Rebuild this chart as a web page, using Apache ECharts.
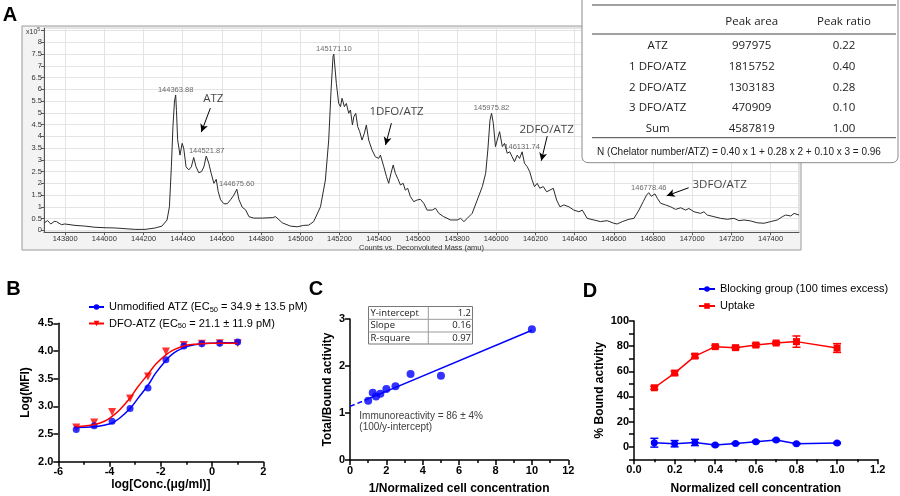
<!DOCTYPE html>
<html><head><meta charset="utf-8">
<script src="https://cdn.jsdelivr.net/npm/echarts@6/dist/echarts.min.js"></script>
<style>html,body{margin:0;padding:0;background:#fff}#c{width:900px;height:496px}</style>
</head><body><div id="c"></div>
<script>
// ---------- Panel A: deconvoluted mass spectrum ----------
const spectrumMass = [143693,143710,143727,143744,143756,143781,143798,143850,143900,143952,144003,144055,144106,144157,144208,144260,144294,144320,144332,144342,144350,144358,144364,144368,144374,144386,144397,144405,144417,144431,144444,144456,144468,144482,144496,144508,144520,144533,144545,144559,144571,144581,144593,144610,144627,144644,144661,144676,144687,144704,144721,144738,144763,144806,144857,144874,144908,144949,144984,145018,145043,145068,145103,145128,145145,145157,145167,145171,145184,145196,145205,145213,145225,145235,145247,145256,145266,145273,145283,145293,145303,145315,145327,145337,145349,145366,145383,145400,145409,145426,145440,145451,145463,145474,145485,145497,145511,145525,145536,145548,145562,145579,145596,145613,145630,145647,145673,145690,145707,145732,145767,145801,145818,145835,145852,145877,145903,145929,145946,145957,145968,145976,145985,145996,146005,146017,146031,146042,146056,146069,146081,146093,146107,146119,146132,146144,146158,146171,146183,146195,146209,146222,146240,146257,146274,146291,146308,146325,146345,146371,146396,146422,146439,146464,146498,146532,146566,146600,146617,146643,146677,146703,146728,146750,146767,146778,146791,146810,146822,146839,146864,146890,146915,146941,146966,146983,147009,147043,147060,147077,147111,147145,147179,147213,147239,147264,147298,147332,147366,147400,147434,147460,147477,147503,147520,147545];
const spectrumIntensity = [0.32,0.41,0.27,0.38,0.37,0.24,0.27,0.21,0.18,0.13,0.11,0.10,0.07,0.04,0.04,0.10,0.18,0.44,1.0,2.7,4.4,5.5,5.76,5.1,3.85,3.2,3.7,3.5,2.7,2.57,2.7,3.1,2.7,2.45,2.5,2.7,3.16,2.85,2.43,2.0,2.17,1.65,1.3,1.13,1.13,1.3,1.5,1.75,1.3,0.98,0.87,0.58,0.52,0.52,0.54,0.58,0.32,0.18,0.15,0.21,0.22,0.37,1.0,2.14,3.84,5.97,7.39,7.5,6.25,5.4,5.26,5.62,5.26,5.4,4.98,5.12,4.48,4.83,4.98,4.41,4.2,3.84,4.13,4.48,3.84,3.42,3.13,3.06,3.2,2.71,2.28,2.0,2.43,2.78,2.43,2.21,1.93,2.0,1.71,1.79,1.43,1.22,1.29,1.32,1.15,0.86,0.86,0.94,0.72,0.58,0.44,0.44,0.51,0.37,0.51,0.72,1.29,1.86,2.43,3.42,4.69,4.98,4.55,3.56,3.84,4.2,3.56,3.7,3.28,3.34,3.13,2.92,3.2,3.06,3.34,2.85,2.71,2.49,2.14,1.86,2.0,1.79,1.86,1.64,1.71,1.79,1.29,1.0,1.08,1.0,0.86,0.79,0.86,0.51,0.44,0.37,0.41,0.30,0.27,0.37,0.47,0.51,0.86,1.22,1.5,1.6,1.45,1.55,1.36,1.15,1.08,1.0,0.89,0.96,0.86,0.93,0.79,0.72,0.79,0.65,0.58,0.51,0.47,0.51,0.41,0.44,0.40,0.32,0.30,0.37,0.44,0.58,0.65,0.61,0.72,0.65];
const peakMass = [144363.88,144521.87,144675.60,145171.10,145975.82,146131.74,146778.46];
const peakIntensity = [5.76,3.16,1.75,7.5,4.98,3.34,1.6];
const peakLabels = ['144363.88','144521.87','144675.60','145171.10','145975.82','146131.74','146778.46'];
const speciesLabels = ['ATZ','1DFO/ATZ','2DFO/ATZ','3DFO/ATZ'];
const speciesLabelPos = [[144556,5.62],[145491,5.03],[146257,4.3],[147140,1.93]];
const arrowStart = [[144541,5.2],[145465,4.56],[146260,4.01],[146982,1.81]];
const arrowEnd = [[144495,4.18],[145435,3.63],[146230,2.96],[146870,1.47]];
// table
const tableHeader = ['', 'Peak area', 'Peak ratio'];
const tableSpecies = ['ATZ','1 DFO/ATZ','2 DFO/ATZ','3 DFO/ATZ','Sum'];
const tablePeakArea = ['997975','1815752','1303183','470909','4587819'];
const tablePeakRatio = ['0.22','0.40','0.28','0.10','1.00'];
const tableNote = 'N (Chelator number/ATZ) = 0.40 x 1 + 0.28 x 2 + 0.10 x 3 = 0.96';

// ---------- Panel B ----------
const logConc = [-5.3,-4.6,-3.9,-3.2,-2.5,-1.8,-1.1,-0.4,0.3,1.0];
const mfiUnmod = [2.58,2.65,2.73,2.96,3.33,3.84,4.09,4.13,4.14,4.16];
const mfiDfo = [2.62,2.71,2.90,3.14,3.54,3.99,4.11,4.13,4.14,4.14];
const fitLogConc = [-5.3,-4.6,-4.2,-3.9,-3.6,-3.2,-2.9,-2.5,-2.2,-1.8,-1.5,-1.1,-0.7,-0.4,0,0.5,1.0];
const fitUnmod = [2.62,2.63,2.66,2.70,2.79,2.96,3.14,3.38,3.60,3.83,3.96,4.06,4.11,4.13,4.14,4.15,4.15];
const fitDfo = [2.63,2.67,2.73,2.82,2.94,3.15,3.35,3.58,3.76,3.93,4.02,4.09,4.12,4.13,4.14,4.14,4.14];
const nameUnmod = 'Unmodified ATZ (EC50 = 34.9 ± 13.5 pM)';
const nameDfo = 'DFO-ATZ (EC50 = 21.1 ± 11.9 pM)';

// ---------- Panel C ----------
const invCellConc = [1,1.25,1.43,1.67,2,2.5,3.33,5,10];
const totalBound = [1.26,1.43,1.35,1.41,1.51,1.57,1.83,1.79,2.78];
const fitSolidX = [1,10];
const fitSolidY = [1.30,2.76];
const fitDashX = [0,1];
const fitDashY = [1.14,1.30];
const insetNames = ['Y-intercept','Slope','R-square'];
const insetValues = ['1.2','0.16','0.97'];
const immunoText = ['Immunoreactivity = 86 ± 4%','(100/y-intercept)'];

// ---------- Panel D ----------
const normCellConc = [0.1,0.2,0.3,0.4,0.5,0.6,0.7,0.8,1.0];
const uptake = [46.9,58.6,72.1,79.6,78.8,80.9,82.5,83.6,78.5];
const uptakeErr = [1.2,1.5,1.5,1,1,1.2,1,4.5,3.5];
const blocking = [3.2,2.4,3.4,1.3,2.6,4.0,5.3,2.4,2.9];
const blockingErr = [3.5,2.5,2.5,0.6,0.6,0.6,0.6,0.6,0.6];
const nameBlocking = 'Blocking group (100 times excess)';
const nameUptake = 'Uptake';

// ---------- build ----------
const ARIAL = '"Liberation Sans", Arial, sans-serif';
const CAL = '"Open Sans", "Noto Sans", sans-serif';
const BLUE = '#0000ff', RED = '#ff0000';
const zip = (a, b) => a.map((v, i) => [v, b[i]]);

function sciX(grid, min, max, interval, name, gap, fmt) {
  return {
    type: 'value', gridIndex: grid, min, max, interval,
    name, nameLocation: 'middle', nameGap: gap,
    nameTextStyle: { fontFamily: ARIAL, fontWeight: 'bold', fontSize: 12, color: '#000' },
    axisLine: { show: true, onZero: false, lineStyle: { color: '#000', width: 1.5 } },
    axisTick: { show: true, length: 5, lineStyle: { color: '#000', width: 1.5 } },
    minorTick: { show: true, splitNumber: 2, length: 3, lineStyle: { color: '#000', width: 1.5 } },
    axisLabel: { fontFamily: ARIAL, fontWeight: 'bold', fontSize: 11, color: '#000', margin: 5, formatter: fmt },
    splitLine: { show: false }, minorSplitLine: { show: false }
  };
}
function sciY(grid, min, max, interval, name, gap, fmt, minor) {
  return {
    type: 'value', gridIndex: grid, min, max, interval,
    name, nameLocation: 'middle', nameGap: gap, nameRotate: 90,
    nameTextStyle: { fontFamily: ARIAL, fontWeight: 'bold', fontSize: 12, color: '#000' },
    axisLine: { show: true, onZero: false, lineStyle: { color: '#000', width: 1.5 } },
    axisTick: { show: true, length: 5, lineStyle: { color: '#000', width: 1.5 } },
    minorTick: { show: !!minor, splitNumber: 2, length: 3, lineStyle: { color: '#000', width: 1.5 } },
    axisLabel: { fontFamily: ARIAL, fontWeight: 'bold', fontSize: 11, color: '#000', margin: 5, formatter: fmt },
    splitLine: { show: false }
  };
}

function errBars(color) {
  return function (params, api) {
    const x = api.value(0), y = api.value(1), e = api.value(2);
    const t = api.coord([x, y + e]), b = api.coord([x, y - e]);
    const w = 4;
    const st = { stroke: color, lineWidth: 1.5 };
    return { type: 'group', children: [
      { type: 'line', shape: { x1: t[0], y1: t[1], x2: b[0], y2: b[1] }, style: st },
      { type: 'line', shape: { x1: t[0] - w, y1: t[1], x2: t[0] + w, y2: t[1] }, style: st },
      { type: 'line', shape: { x1: b[0] - w, y1: b[1], x2: b[0] + w, y2: b[1] }, style: st }
    ]};
  };
}

const richLegend = {
  n: { fontFamily: ARIAL, fontSize: 11, color: '#000', verticalAlign: 'middle', lineHeight: 13 },
  sub: { fontFamily: ARIAL, fontSize: 7.5, color: '#000', verticalAlign: 'bottom', lineHeight: 13 }
};
function legendFmt(name) {
  const parts = name.split('EC50');
  if (parts.length === 1) return '{n|' + name + '}';
  return '{n|' + parts[0] + 'EC}{sub|50}{n|' + parts[1] + '}';
}

// graphic elements: panel letters, frame, table, inset, notes
const graphics = [];
graphics.push({ type: 'rect', z: -10, shape: { x: 22, y: 26, width: 779, height: 224 }, style: { fill: '#f3f3f3', stroke: '#9a9a9a', lineWidth: 1 } });
[['A', 10, 15], ['B', 13.5, 289], ['C', 316, 289.5], ['D', 590, 291]].forEach(([t, x, y]) => {
  graphics.push({ type: 'text', x, y, z: 50, style: { text: t, fontFamily: ARIAL, fontWeight: 'bold', fontSize: 20, fill: '#000', align: 'center', verticalAlign: 'middle' } });
});
graphics.push({ type: 'text', x: 26, y: 31.5, z: 50, style: { text: '{a|x10}{s|5}', rich: { a: { fontFamily: ARIAL, fontSize: 7, fill: '#333', verticalAlign: 'bottom', lineHeight: 9 }, s: { fontFamily: ARIAL, fontSize: 5, fill: '#333', verticalAlign: 'top', lineHeight: 9 } }, verticalAlign: 'middle' } });
// table box
graphics.push({ type: 'rect', z: 100, shape: { x: 582, y: -6, width: 316, height: 168.7, r: 6 }, style: { fill: '#fff', stroke: '#8c8c8c', lineWidth: 1 } });
[5, 34, 137.7].forEach(y => graphics.push({ type: 'line', z: 101, shape: { x1: 592, y1: y, x2: 896, y2: y }, style: { stroke: '#444', lineWidth: 1 } }));
const colX = [657.7, 751.7, 844];
tableHeader.forEach((t, i) => graphics.push({ type: 'text', z: 102, x: colX[i], y: 21.7, style: { text: t, fontFamily: CAL, fontSize: 11.5, fill: '#222', align: 'center', verticalAlign: 'middle' } }));
const rowY = [46, 66.5, 87.3, 108, 128.3];
tableSpecies.forEach((t, r) => {
  [t, tablePeakArea[r], tablePeakRatio[r]].forEach((v, i) => graphics.push({ type: 'text', z: 102, x: colX[i], y: rowY[r], style: { text: v, fontFamily: CAL, fontSize: 11.5, fill: '#222', align: 'center', verticalAlign: 'middle' } }));
});
graphics.push({ type: 'text', z: 102, x: 739, y: 152.7, style: { text: tableNote, fontFamily: ARIAL, fontSize: 10, fill: '#222', align: 'center', verticalAlign: 'middle' } });
// panel C inset
graphics.push({ type: 'rect', z: 50, shape: { x: 368.5, y: 306.5, width: 104, height: 37.5 }, style: { fill: '#fff', stroke: '#777', lineWidth: 1 } });
[319.3, 332].forEach(y => graphics.push({ type: 'line', z: 51, shape: { x1: 368.5, y1: y, x2: 472.5, y2: y }, style: { stroke: '#999', lineWidth: 1 } }));
graphics.push({ type: 'line', z: 51, shape: { x1: 428.3, y1: 306.5, x2: 428.3, y2: 344 }, style: { stroke: '#999', lineWidth: 1 } });
const insetY = [313, 325.7, 338];
insetNames.forEach((t, i) => {
  graphics.push({ type: 'text', z: 52, x: 370.5, y: insetY[i], style: { text: t, fontFamily: CAL, fontSize: 9.5, fill: '#222', align: 'left', verticalAlign: 'middle' } });
  graphics.push({ type: 'text', z: 52, x: 471, y: insetY[i], style: { text: insetValues[i], fontFamily: CAL, fontSize: 9.5, fill: '#222', align: 'right', verticalAlign: 'middle' } });
});
immunoText.forEach((t, i) => graphics.push({ type: 'text', z: 52, x: 359.3, y: 416.7 + i * 10.8, style: { text: t, fontFamily: ARIAL, fontSize: 10, fill: '#404040', align: 'left', verticalAlign: 'middle' } }));

const option = {
  animation: false,
  backgroundColor: '#fff',
  graphic: graphics,
  grid: [
    { left: 44, top: 28.2, width: 755, height: 204, show: true, backgroundColor: '#fff', borderColor: '#c4c4c4', borderWidth: 1, containLabel: false },
    { left: 58.3, top: 323.3, width: 205, height: 138.4, containLabel: false },
    { left: 350, top: 319, width: 218.3, height: 141.7, containLabel: false },
    { left: 634, top: 321, width: 243.7, height: 138.3, containLabel: false }
  ],
  legend: [
    { data: [nameUnmod, nameDfo], orient: 'vertical', left: 83, top: 296.5, itemWidth: 15, itemHeight: 7, itemGap: 4.5, selectedMode: false,
      textStyle: { fontFamily: ARIAL, fontSize: 11, color: '#000', rich: richLegend }, formatter: legendFmt },
    { data: [nameBlocking, nameUptake], orient: 'vertical', left: 693, top: 278.5, itemWidth: 16, itemHeight: 7, itemGap: 6, selectedMode: false,
      textStyle: { fontFamily: ARIAL, fontSize: 11, color: '#000', rich: richLegend }, formatter: legendFmt }
  ],
  xAxis: [
    { type: 'value', gridIndex: 0, min: 143692, max: 147545, minInterval: 200, maxInterval: 200, splitNumber: 19,
      name: 'Counts vs. Deconvoluted Mass (amu)', nameLocation: 'middle', nameGap: 12,
      nameTextStyle: { fontFamily: ARIAL, fontSize: 7.5, color: '#333' },
      axisLine: { show: true, onZero: false, lineStyle: { color: '#555', width: 1 } },
      axisTick: { show: true, length: 3, lineStyle: { color: '#555' } },
      axisLabel: { fontFamily: ARIAL, fontSize: 7.5, color: '#333', margin: 3, showMinLabel: false, showMaxLabel: false,
        formatter: v => (v % 200 === 0) ? String(v) : '' },
      splitLine: { show: true, lineStyle: { color: '#e4e4e4', width: 1 } } },
    sciX(1, -6, 2, 2, 'log[Conc.(μg/ml)]', 16, null),
    sciX(2, 0, 12, 2, '1/Normalized cell concentration', 23, null),
    sciX(3, 0, 1.2, 0.2, 'Normalized cell concentration', 23, v => v.toFixed(1))
  ],
  yAxis: [
    { type: 'value', gridIndex: 0, min: -0.08, max: 8.6, minInterval: 0.5, maxInterval: 0.5, splitNumber: 17,
      axisLine: { show: true, onZero: false, lineStyle: { color: '#555', width: 1 } },
      axisTick: { show: true, length: 3, lineStyle: { color: '#555' } },
      axisLabel: { fontFamily: ARIAL, fontSize: 7.5, color: '#333', margin: 2, showMinLabel: false, showMaxLabel: false,
        formatter: v => (v >= 0 && v <= 8.01) ? String(v) : '' },
      splitLine: { show: true, lineStyle: { color: '#e4e4e4', width: 1 } } },
    sciY(1, 2, 4.5, 0.5, 'Log(MFI)', 27, v => v.toFixed(1), false),
    sciY(2, 0, 3, 1, 'Total/Bound activity', 16, null, false),
    sciY(3, -10, 100, 10, '% Bound activity', 28, v => (v >= 0 && v % 20 === 0) ? String(v) : '', false)
  ],
  series: [
    // A
    { type: 'line', xAxisIndex: 0, yAxisIndex: 0, data: zip(spectrumMass, spectrumIntensity), showSymbol: false, symbol: 'none',
      lineStyle: { color: '#2b2b2b', width: 1 }, z: 3,
      markLine: { silent: true, symbol: ['none', 'arrow'], symbolSize: [6, 8], label: { show: false },
        lineStyle: { color: '#000', width: 1, type: 'solid' },
        data: arrowStart.map((s, i) => [{ coord: s }, { coord: arrowEnd[i] }]) } },
    { type: 'scatter', xAxisIndex: 0, yAxisIndex: 0, data: zip(peakMass, peakIntensity), symbolSize: 0, silent: true,
      label: { show: true, position: 'top', distance: 1, fontFamily: ARIAL, fontSize: 7.5, color: '#444', formatter: p => peakLabels[p.dataIndex] } },
    { type: 'scatter', xAxisIndex: 0, yAxisIndex: 0, data: speciesLabelPos, symbolSize: 0, silent: true,
      label: { show: true, position: 'inside', fontFamily: CAL, fontSize: 11.5, color: '#111', formatter: p => speciesLabels[p.dataIndex] } },
    // B
    { name: nameUnmod, type: 'line', xAxisIndex: 1, yAxisIndex: 1, data: zip(fitLogConc, fitUnmod), smooth: 0.4, showSymbol: false, symbol: 'circle',
      lineStyle: { color: BLUE, width: 1.5 }, itemStyle: { color: BLUE } },
    { name: nameDfo, type: 'line', xAxisIndex: 1, yAxisIndex: 1, data: zip(fitLogConc, fitDfo), smooth: 0.4, showSymbol: false, symbol: 'triangle', symbolRotate: 180,
      lineStyle: { color: RED, width: 1.5 }, itemStyle: { color: RED } },
    { type: 'scatter', xAxisIndex: 1, yAxisIndex: 1, data: zip(logConc, mfiDfo), symbol: 'triangle', symbolRotate: 180, symbolSize: 8, itemStyle: { color: RED } },
    { type: 'scatter', xAxisIndex: 1, yAxisIndex: 1, data: zip(logConc, mfiUnmod), symbol: 'circle', symbolSize: 7, itemStyle: { color: BLUE } },
    // C
    { type: 'line', xAxisIndex: 2, yAxisIndex: 2, data: zip(fitDashX, fitDashY), showSymbol: false, symbol: 'none', lineStyle: { color: BLUE, width: 1.5, type: [5, 3] } },
    { type: 'line', xAxisIndex: 2, yAxisIndex: 2, data: zip(fitSolidX, fitSolidY), showSymbol: false, symbol: 'none', lineStyle: { color: BLUE, width: 1.5 } },
    { type: 'scatter', xAxisIndex: 2, yAxisIndex: 2, data: zip(invCellConc, totalBound), symbol: 'circle', symbolSize: 8, itemStyle: { color: BLUE } },
    // D
    { type: 'custom', xAxisIndex: 3, yAxisIndex: 3, renderItem: errBars(RED), data: normCellConc.map((x, i) => [x, uptake[i], uptakeErr[i]]), encode: { x: 0, y: 1 }, z: 3 },
    { type: 'custom', xAxisIndex: 3, yAxisIndex: 3, renderItem: errBars(BLUE), data: normCellConc.map((x, i) => [x, blocking[i], blockingErr[i]]), encode: { x: 0, y: 1 }, z: 3 },
    { name: nameBlocking, type: 'line', xAxisIndex: 3, yAxisIndex: 3, data: zip(normCellConc, blocking), symbol: 'circle', symbolSize: 7, showSymbol: true,
      lineStyle: { color: BLUE, width: 1.5 }, itemStyle: { color: BLUE }, z: 4 },
    { name: nameUptake, type: 'line', xAxisIndex: 3, yAxisIndex: 3, data: zip(normCellConc, uptake), symbol: 'rect', symbolSize: 7, showSymbol: true,
      lineStyle: { color: RED, width: 1.5 }, itemStyle: { color: RED }, z: 4 }
  ]
};
const chart = echarts.init(document.getElementById('c'));
chart.setOption(option);
</script>
</body></html>
